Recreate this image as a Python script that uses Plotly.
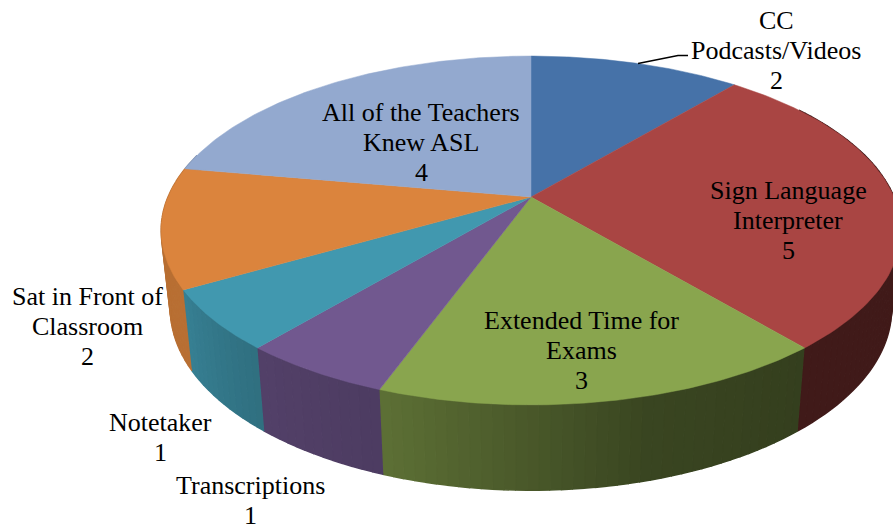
import numpy as np
import plotly.graph_objects as go

categories = ["CC<br>Podcasts/Videos", "Sign Language<br>Interpreter", "Extended Time for<br>Exams",
              "Transcriptions", "Notetaker", "Sat in Front of<br>Classroom", "All of the Teachers<br>Knew ASL"]
values = [2, 5, 3, 1, 1, 2, 4]
colors = ["#4672A8", "#A94543", "#89A54E", "#71588F", "#4198AF", "#DB843D", "#93A9CF"]
label_x = [776, 788, 581, 250, 160, 87, 421]
label_y = [50, 220, 350, 500, 437, 326, 142]
LINE_GAP = 30

CX, CY, A, B, K = 531, 197, 363, 168, 0.192
SHADE_ANGLE = [0, 90, 140, 165, 200, 220, 240, 262, 360]
SHADE_VALUE = [0.38, 0.38, 0.38, 0.42, 0.68, 0.73, 0.84, 0.84, 0.84]


def top(theta):
    t = np.radians(theta)
    w = 1 + K * np.cos(t)
    return CX + A * np.sin(t) / w, CY - B * np.cos(t) / w


def bottom(theta):
    x, y = top(theta)
    return CX + 0.975 * (x - CX), CY + 1.04 * (y - CY) + 77


def shade(hex_color, f):
    r, g, b = (int(hex_color[i:i + 2], 16) for i in (1, 3, 5))
    return f"rgb({r * f:.0f},{g * f:.0f},{b * f:.0f})"


total = sum(values)
edges = np.concatenate([[0], np.cumsum(values)]) * 360 / total
fig = go.Figure()

# side wall
for i, c in enumerate(colors):
    start, end = max(edges[i], 55), min(edges[i + 1], 285)
    if end <= start:
        continue
    n = max(int((end - start) / 1.5), 1)
    grid = np.linspace(start, end, n + 1)
    for t0, t1 in zip(grid[:-1], grid[1:]):
        arc = np.linspace(t0, t1, 3)
        xt, yt = top(arc)
        xb, yb = bottom(arc[::-1])
        col = shade(c, float(np.interp((t0 + t1) / 2, SHADE_ANGLE, SHADE_VALUE)))
        fig.add_trace(go.Scatter(x=np.concatenate([xt, xb]), y=np.concatenate([yt, yb]),
                                 mode="lines", fill="toself", fillcolor=col,
                                 line=dict(color=col, width=1.5),
                                 hoverinfo="skip", showlegend=False))

# top face
for i, c in enumerate(colors):
    arc = np.linspace(edges[i], edges[i + 1], 90)
    xt, yt = top(arc)
    fig.add_trace(go.Scatter(x=np.concatenate([[CX], xt, [CX]]), y=np.concatenate([[CY], yt, [CY]]),
                             mode="lines", fill="toself", fillcolor=c,
                             line=dict(color=c, width=0.5),
                             hoverinfo="skip", showlegend=False))

# leader line of the first label
fig.add_trace(go.Scatter(x=[638, 678, 688], y=[63.5, 55.5, 55.5], mode="lines",
                         line=dict(color="black", width=1.3), hoverinfo="skip", showlegend=False))

for name, v, x, y in zip(categories, values, label_x, label_y):
    lines = name.split("<br>") + [str(v)]
    for k, line in enumerate(lines):
        fig.add_annotation(x=x, y=y + (k - (len(lines) - 1) / 2) * LINE_GAP, text=line,
                           showarrow=False, align="center", xanchor="center", yanchor="middle",
                           font=dict(family="Liberation Serif", size=26, color="black"))

fig.update_xaxes(range=[0, 893], visible=False, fixedrange=True)
fig.update_yaxes(range=[529, 0], visible=False, fixedrange=True)
fig.update_layout(width=893, height=529, margin=dict(l=0, r=0, t=0, b=0),
                  paper_bgcolor="white", plot_bgcolor="white", showlegend=False)
fig.write_html("out.html", config={"displayModeBar": False},
               post_script="document.body.style.margin='0';document.documentElement.style.overflow='hidden';")
